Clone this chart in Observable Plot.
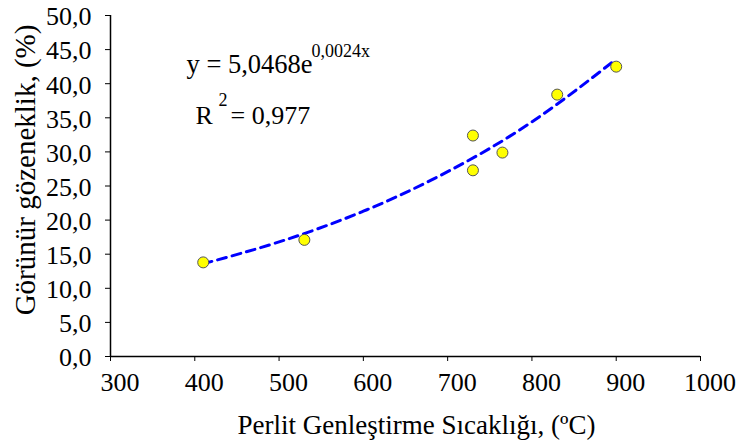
<!DOCTYPE html>
<html>
<head>
<meta charset="utf-8">
<script src="https://cdn.jsdelivr.net/npm/d3@7"></script>
<script src="https://cdn.jsdelivr.net/npm/@observablehq/plot@0.6"></script>
<style>
  html, body { margin: 0; padding: 0; background: #fff; }
</style>
</head>
<body>
<div id="chart"></div>
<script>
// Measured points
const temperature = [410, 530, 730, 730, 765, 830, 900];
const porosity = [13.8, 17.1, 32.4, 27.3, 29.9, 38.4, 42.5];

// Trend line
const trendX = [410, 500, 600, 700, 800, 900];
const trendY = [13.6, 16.8, 21.3, 27.1, 34.4, 43.6];

// Ticks
const xTicks = [300, 400, 500, 600, 700, 800, 900, 1000];
const yTicks = [0, 5, 10, 15, 20, 25, 30, 35, 40, 45, 50];

const xTitle = "Perlit Genleştirme Sıcaklığı, (ºC)";
const yTitle = "Görünür gözeneklik, (%)";
const eqMain = "y = 5,0468e";
const eqExp = "0,0024x";
const r2R = "R";
const r2Sup = "2";
const r2Val = "= 0,977";

const points = temperature.map((t, i) => ({t, p: porosity[i]}));
const trend = trendX.map((t, i) => ({t, p: trendY[i]}));

const FONT = "Liberation Serif";
const fmt = d => d.toFixed(1).replace(".", ",");

const chart = Plot.plot({
  width: 739,
  height: 446,
  marginLeft: 110,
  marginRight: 39,
  marginTop: 15,
  marginBottom: 90,
  style: {fontFamily: FONT, fontSize: "26px", color: "#000", background: "#fff"},
  x: {domain: [300, 1000]},
  y: {domain: [0, 50]},
  marks: [
    // tick marks
    Plot.axisX({ticks: xTicks, tickSize: 5, label: null, tickFormat: () => ""}),
    Plot.axisY({ticks: yTicks, tickSize: 5, label: null, tickFormat: () => ""}),
    // tick labels
    Plot.axisX({ticks: xTicks, tickSize: 0, tickPadding: 16, label: null, fontSize: 26, dx: 9.5, tickFormat: d => String(d)}),
    Plot.axisY({ticks: yTicks, tickSize: 0, tickPadding: 19, label: null, fontSize: 26, dy: 1.5, tickFormat: fmt}),
    Plot.ruleY([0], {stroke: "#000", strokeWidth: 1.5}),
    Plot.ruleX([300], {stroke: "#000", strokeWidth: 1.5}),
    Plot.line(trend, {x: "t", y: "p", curve: "natural", stroke: "#0000ff", strokeWidth: 3, strokeDasharray: "9,6"}),
    Plot.dot(points, {x: "t", y: "p", r: 5.5, fill: "#ffff00", stroke: "#555", strokeWidth: 1}),
    Plot.text([xTitle], {frameAnchor: "bottom", textAnchor: "middle", lineAnchor: "bottom", dx: 11, dy: 77, fontSize: 27, letterSpacing: 0.5}),
    Plot.text([yTitle], {frameAnchor: "left", textAnchor: "middle", lineAnchor: "bottom", rotate: -90, dx: -76, dy: -16, fontSize: 29, letterSpacing: 2.2}),
    Plot.text([eqMain], {frameAnchor: "top-left", textAnchor: "start", lineAnchor: "bottom", dx: 76, dy: 57, fontSize: 26.5}),
    Plot.text([eqExp], {frameAnchor: "top-left", textAnchor: "start", lineAnchor: "bottom", dx: 201, dy: 41.5, fontSize: 18}),
    Plot.text([r2R], {frameAnchor: "top-left", textAnchor: "start", lineAnchor: "bottom", dx: 85, dy: 108, fontSize: 26}),
    Plot.text([r2Sup], {frameAnchor: "top-left", textAnchor: "start", lineAnchor: "bottom", dx: 108, dy: 90, fontSize: 18}),
    Plot.text([r2Val], {frameAnchor: "top-left", textAnchor: "start", lineAnchor: "bottom", dx: 120, dy: 108, fontSize: 26})
  ]
});
document.getElementById("chart").appendChild(chart);
</script>
</body>
</html>
